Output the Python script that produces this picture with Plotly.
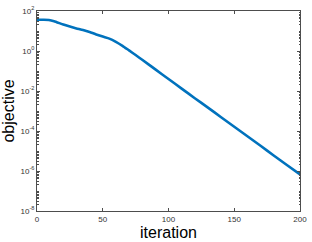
import numpy as np
import plotly.graph_objects as go

iterations = [0, 5, 9, 13, 20, 25, 30, 35, 40, 45, 50, 55, 60, 65, 70, 75, 80,
              90, 100, 110, 120, 130, 140, 150, 160, 170, 180, 190, 200]
objective = [36.3, 36.3, 35.5, 30.9, 20.9, 16.6, 13.5, 11.2, 8.91, 6.76, 5.25,
             4.17, 2.88, 1.82, 1.07, 0.631, 0.363, 0.120, 0.0398, 0.0132,
             4.37e-3, 1.48e-3, 4.9e-4, 1.62e-4, 5.5e-5, 1.82e-5, 6.0e-6,
             2.0e-6, 6.8e-7]

x_ticks = [0, 50, 100, 150, 200]
y_exps = [-8, -6, -4, -2, 0, 2]
y_ticks = [10.0 ** e for e in y_exps]
y_ticktext = [f"10<sup>{e}</sup>" for e in y_exps]

minor_vals = [m * 10.0 ** d for d in range(-8, 2) for m in range(2, 10)]
minor_vals += [10.0 ** d for d in range(-8, 3) if d not in y_exps]

axis_color = "#4d4d4d"
font = "Liberation Sans, Arial, Helvetica, sans-serif"

fig = go.Figure()
fig.add_trace(go.Scatter(x=iterations, y=objective, mode="lines",
                         line=dict(color="#0072BD", width=2.6, shape="spline", smoothing=0.5)))

fig.update_layout(
    width=312, height=242,
    margin=dict(l=37, r=7, t=5, b=31),
    paper_bgcolor="white", plot_bgcolor="white",
    showlegend=False,
    font=dict(family=font, color=axis_color),
)
fig.update_xaxes(
    range=[0, 200], tickvals=x_ticks, ticks="inside", ticklen=3, tickwidth=1,
    tickcolor=axis_color, showline=True, linecolor=axis_color, linewidth=1,
    mirror="ticks", showgrid=False, zeroline=False, ticklabeloverflow="allow",
    tickfont=dict(size=8, color="#333333"),
    title=dict(text="iteration", font=dict(size=16, color="#000000"), standoff=0),
)
fig.update_yaxes(
    type="log", range=[-8, 2], tickvals=y_ticks, ticktext=y_ticktext,
    ticks="inside", ticklen=3, tickwidth=1, tickcolor=axis_color,
    showline=True, linecolor=axis_color, linewidth=1, mirror="ticks",
    showgrid=False, zeroline=False, ticklabeloverflow="allow",
    tickfont=dict(size=8, color="#333333"),
    minor=dict(tickvals=minor_vals, ticks="inside", ticklen=1.5, tickwidth=0.6,
               tickcolor=axis_color, showgrid=False),
    title=dict(text="objective", font=dict(size=16, color="#000000"), standoff=2),
)

fig.write_html("out.html", config={"displayModeBar": False},
               post_script="document.body.style.margin='0';document.body.style.overflow='hidden';")
